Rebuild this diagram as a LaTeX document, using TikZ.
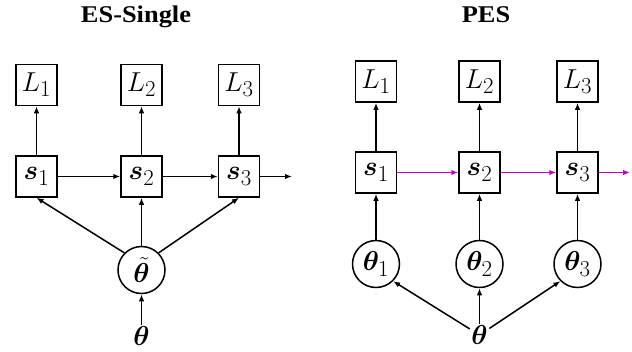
\documentclass[tikz,border=0pt]{standalone}
\usepackage{fix-cm}
\usepackage{amsmath,bm}
\usepackage{fontspec}
\newfontfamily\titlefont{Liberation Serif Bold}
\usetikzlibrary{arrows.meta}
\definecolor{pesmag}{RGB}{191,0,191}
% math labels, enlarged beyond the largest preset size
\newcommand{\bigmath}[1]{\scalebox{1.1}{$#1$}}
\tikzset{
  every node/.style={font=\Huge},
  box/.style={draw, line width=1.5pt, minimum width=41pt, minimum height=41pt, inner sep=0pt},
  circ/.style={draw, circle, line width=1.5pt, minimum size=47pt, inner sep=0pt},
  titletext/.style={font=\titlefont\fontsize{24}{28}\selectfont, anchor=base},
  edge/.style={line width=1.5pt, -{Latex[length=7pt,width=5.5pt]}},
  magedge/.style={edge, draw=pesmag, -{Latex[length=7pt,width=5.5pt,color=pesmag]}},
  plain/.style={inner sep=1.5pt}
}
\begin{document}
\begin{tikzpicture}[x=1pt,y=-1pt]
\useasboundingbox (0,0) rectangle (632,351);

% ---------- ES-Single ----------
\node[titletext] (t1) at (136,22.3) {\scalebox{1.1}[1]{ES-Single}};
\node[box] (aL1) at (36.5,85) {\bigmath{L_1}};
\node[box] (aL2) at (141.5,85) {\bigmath{L_2}};
\node[box] (aL3) at (239,85) {\bigmath{L_3}};
\node[box] (as1) at (36.5,176.5) {\bigmath{\bm{s}_1}};
\node[box] (as2) at (141.5,176.5) {\bigmath{\bm{s}_2}};
\node[box] (as3) at (239,176.5) {\bigmath{\bm{s}_3}};
\coordinate (aout) at (292,176.5);
\node[circ] (att) at (141.5,270) {\bigmath{\tilde{\bm{\theta}}}};
\node[plain] (ath) at (141.5,336) {\bigmath{\bm{\theta}}};

\foreach \i in {1,2,3} \draw[edge] (as\i) -- (aL\i);
\draw[edge] (as1) -- (as2);
\draw[edge] (as2) -- (as3);
\draw[edge] (as3) -- (aout);
\draw[edge] (att.north west) -- (as1.south);
\draw[edge] (att) -- (as2);
\draw[edge] (att.north east) -- (as3.south);
\draw[edge] (ath) -- (att);

% ---------- PES ----------
\node[titletext] (t2) at (486,22.3) {\scalebox{1.1}[1]{PES}};
\node[box] (bL1) at (376,81.5) {\bigmath{L_1}};
\node[box] (bL2) at (479.5,81.5) {\bigmath{L_2}};
\node[box] (bL3) at (577.5,81.5) {\bigmath{L_3}};
\node[box] (bs1) at (376,172.5) {\bigmath{\bm{s}_1}};
\node[box] (bs2) at (479.5,172.5) {\bigmath{\bm{s}_2}};
\node[box] (bs3) at (577.5,172.5) {\bigmath{\bm{s}_3}};
\coordinate (bout) at (630,172.5);
\node[circ] (bt1) at (376,264) {\bigmath{\bm{\theta}_1}};
\node[circ] (bt2) at (479.5,264) {\bigmath{\bm{\theta}_2}};
\node[circ] (bt3) at (577.5,264) {\bigmath{\bm{\theta}_3}};
\node[plain] (bth) at (479.5,335) {\bigmath{\bm{\theta}}};

\foreach \i in {1,2,3} {
  \draw[edge] (bs\i) -- (bL\i);
  \draw[edge] (bt\i) -- (bs\i);
}
\draw[magedge] (bs1) -- (bs2);
\draw[magedge] (bs2) -- (bs3);
\draw[magedge] (bs3) -- (bout);
\draw[edge] (bth) -- (bt1.south east);
\draw[edge] (bth) -- (bt2);
\draw[edge] (bth) -- (bt3.south west);
\end{tikzpicture}
\end{document}
